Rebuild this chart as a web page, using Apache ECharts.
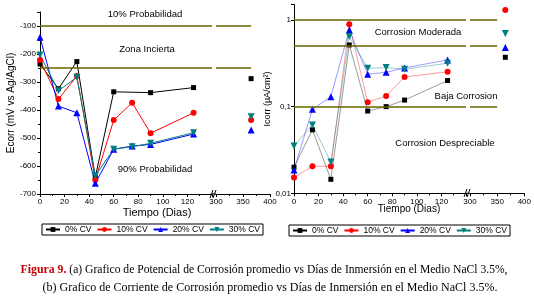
<!DOCTYPE html>
<html>
<head>
<meta charset="utf-8">
<script src="https://cdn.jsdelivr.net/npm/echarts@6/dist/echarts.min.js"></script>
<style>
html, body { margin: 0; padding: 0; background: #fff; }
#chart { width: 534px; height: 301px; }
</style>
</head>
<body>
<div id="chart"></div>
<script>
// dias de inmersion
const days = [0, 15, 30, 45, 60, 75, 90, 125];
const lastDay = 365;
const names = ['0% CV', '10% CV', '20% CV', '30% CV'];

// (a) Ecorr, mV vs Ag/AgCl
const ecorr0 = [-236, -324, -227, -640, -335, null, -338, -320];
const ecorr10 = [-221, -361, -279, -650, -436, -374, -483, -410];
const ecorr20 = [-140, -386, -410, -662, -540, -529, -523, -486];
const ecorr30 = [-204, -331, -283, -635, -540, -531, -519, -481];
const ecorrLast = [-288, -436, -471, -424];

// (b) Icorr, uA/cm2
const icorr0 = [0.020, 0.054, 0.0145, 0.515, 0.089, 0.100, 0.119, 0.200];
const icorr10 = [0.0152, 0.0205, 0.0205, 0.89, 0.112, 0.133, 0.220, 0.252];
const icorr20 = [0.0186, 0.093, 0.130, 0.767, 0.236, 0.249, 0.280, 0.346];
const icorr30 = [0.0352, 0.0615, 0.0229, 0.643, 0.277, 0.282, 0.270, 0.317];
const icorrLast = [0.371, 1.30, 0.48, 0.70];

// lineas de limite
const ecorrLimits = [-100, -250];
const icorrLimits = [1, 0.5, 0.1];
const ecorrLimitEnd = 365;
const icorrLimitEnd = 350;

const font = 'Liberation Sans';
const colors = ['#000000', '#ff0000', '#0000ff', '#007f7f'];
const symbols = ['rect', 'circle', 'triangle', 'triangle'];
const rotates = [0, 0, 0, 180];
const sizes = [5, 6, 7, 7];
const olive = '#666600';

const chart = echarts.init(document.getElementById('chart'));

function pts(arr) {
    return days.map((d, i) => [d, arr[i]]).filter(p => p[1] !== null);
}

function makeSeries(k, data, xi, yi, faded) {
    return {
        type: 'line',
        name: names[k],
        xAxisIndex: xi,
        yAxisIndex: yi,
        data: data,
        symbol: symbols[k],
        symbolSize: sizes[k],
        symbolRotate: rotates[k],
        itemStyle: { color: colors[k] },
        lineStyle: { color: colors[k], width: 1, opacity: faded ? 0.4 : 1 },
        emphasis: { disabled: true }
    };
}

function limitLine(data) {
    return {
        silent: true,
        symbol: 'none',
        label: { show: false },
        lineStyle: { color: olive, width: 1.5, type: 'solid' },
        data: data
    };
}

const series = [];
[ecorr0, ecorr10, ecorr20, ecorr30].forEach((arr, k) => {
    series.push(makeSeries(k, pts(arr), 0, 0, false));
});
ecorrLast.forEach((v, k) => {
    series.push(makeSeries(k, [[lastDay, v]], 1, 1, false));
});
[icorr0, icorr10, icorr20, icorr30].forEach((arr, k) => {
    series.push(makeSeries(k, pts(arr), 2, 2, true));
});
icorrLast.forEach((v, k) => {
    series.push(makeSeries(k, [[lastDay, v]], 3, 3, true));
});

series[0].markLine = limitLine(ecorrLimits.map(v => ({ yAxis: v })));
series[4].markLine = limitLine(ecorrLimits.map(v => [{ coord: [300, v] }, { coord: [ecorrLimitEnd, v] }]));
series[8].markLine = limitLine(icorrLimits.map(v => ({ yAxis: v })));
series[12].markLine = limitLine(icorrLimits.map(v => [{ coord: [300, v] }, { coord: [icorrLimitEnd, v] }]));

const axisBase = {
    splitLine: { show: false },
    axisLine: { lineStyle: { color: '#000', width: 1 } },
    axisTick: { length: 3, lineStyle: { color: '#000' } },
    minorTick: { show: true, splitNumber: 2, length: 2, lineStyle: { color: '#000' } },
    axisLabel: { fontSize: 8, fontFamily: font, color: '#000', margin: 4 }
};

function xMain(grid) {
    return Object.assign({}, axisBase, {
        gridIndex: grid, type: 'value', min: 0, max: 140, interval: 20,
        axisLabel: Object.assign({}, axisBase.axisLabel, {
            formatter: v => (v === 140 ? '' : v)
        })
    });
}

function xEnd(grid) {
    return Object.assign({}, axisBase, {
        gridIndex: grid, type: 'value', min: 300, max: 400, interval: 50
    });
}

function logLabel(v) {
    const e = Math.log10(v);
    if (Math.abs(e - Math.round(e)) > 1e-6) return '';
    return String(Number(v.toPrecision(3))).replace('.', ',');
}

const legendBase = {
    data: names, itemWidth: 14, itemHeight: 6, itemGap: 5,
    padding: [1, 3], borderColor: '#000', borderWidth: 1, selectedMode: false,
    textStyle: { fontSize: 8.5, fontFamily: font, color: '#000' }
};

chart.setOption({
    animation: false,
    textStyle: { fontFamily: font },
    grid: [
        { left: 40, top: 12, width: 172, height: 182 },
        { left: 216, top: 12, width: 54, height: 182 },
        { left: 294, top: 4.7, width: 172, height: 188.6 },
        { left: 470, top: 4.7, width: 55, height: 188.6 }
    ],
    xAxis: [xMain(0), xEnd(1), xMain(2), xEnd(3)],
    yAxis: [
        Object.assign({}, axisBase, {
            gridIndex: 0, type: 'value', min: -700, max: -50, interval: 100,
            name: 'Ecorr (mV vs Ag/AgCl)', nameLocation: 'middle', nameGap: 24,
            nameTextStyle: { fontSize: 10, fontFamily: font, color: '#000' },
            axisLabel: Object.assign({}, axisBase.axisLabel, {
                formatter: v => (v % 100 === 0 ? v : '')
            })
        }),
        { gridIndex: 1, type: 'value', min: -700, max: -50, show: false },
        Object.assign({}, axisBase, {
            gridIndex: 2, type: 'log', logBase: 10, min: 0.01, max: 1.5,
            minorTick: { show: false },
            name: 'Icorr (µA/cm²)', nameLocation: 'middle', nameGap: 17,
            nameTextStyle: { fontSize: 9, fontFamily: font, color: '#000' },
            axisLabel: Object.assign({}, axisBase.axisLabel, {
                margin: 3, formatter: logLabel
            })
        }),
        { gridIndex: 3, type: 'log', logBase: 10, min: 0.01, max: 1.5, show: false }
    ],
    legend: [
        Object.assign({}, legendBase, { left: 42, top: 224 }),
        Object.assign({}, legendBase, { left: 289, top: 225 })
    ],
    graphic: [
        { type: 'text', x: 145, y: 14, style: { text: '10% Probabilidad', fontSize: 9.5, fontFamily: font, fill: '#000', align: 'center', verticalAlign: 'middle' } },
        { type: 'text', x: 147, y: 49, style: { text: 'Zona Incierta', fontSize: 9.5, fontFamily: font, fill: '#000', align: 'center', verticalAlign: 'middle' } },
        { type: 'text', x: 155, y: 169, style: { text: '90% Probabilidad', fontSize: 9.5, fontFamily: font, fill: '#000', align: 'center', verticalAlign: 'middle' } },
        { type: 'text', x: 418, y: 32, style: { text: 'Corrosion Moderada', fontSize: 9.5, fontFamily: font, fill: '#000', align: 'center', verticalAlign: 'middle' } },
        { type: 'text', x: 466, y: 96, style: { text: 'Baja Corrosion', fontSize: 9.5, fontFamily: font, fill: '#000', align: 'center', verticalAlign: 'middle' } },
        { type: 'text', x: 445, y: 143, style: { text: 'Corrosion Despreciable', fontSize: 9.5, fontFamily: font, fill: '#000', align: 'center', verticalAlign: 'middle' } },
        { type: 'text', x: 157, y: 213, style: { text: 'Tiempo (Dias)', fontSize: 11, fontFamily: font, fill: '#000', align: 'center', verticalAlign: 'middle' } },
        { type: 'text', x: 409, y: 209, style: { text: 'Tiempo (Dias)', fontSize: 10, fontFamily: font, fill: '#000', align: 'center', verticalAlign: 'middle' } },
        // cortes del eje x
        { type: 'line', shape: { x1: 212, y1: 194, x2: 216, y2: 194 }, style: { stroke: '#000', lineWidth: 1 } },
        { type: 'line', shape: { x1: 210, y1: 198, x2: 213, y2: 190 }, style: { stroke: '#000', lineWidth: 1 } },
        { type: 'line', shape: { x1: 213, y1: 198, x2: 216, y2: 190 }, style: { stroke: '#000', lineWidth: 1 } },
        { type: 'line', shape: { x1: 466, y1: 193.3, x2: 470, y2: 193.3 }, style: { stroke: '#000', lineWidth: 1 } },
        { type: 'line', shape: { x1: 464, y1: 197, x2: 467, y2: 189 }, style: { stroke: '#000', lineWidth: 1 } },
        { type: 'line', shape: { x1: 467, y1: 197, x2: 470, y2: 189 }, style: { stroke: '#000', lineWidth: 1 } },
        // pie de figura
        {
            type: 'text', x: 264, y: 270,
            style: {
                text: '{r|Figura 9.} (a) Grafico de Potencial de Corrosión promedio vs Días de Inmersión en el Medio NaCl 3.5%,',
                fontSize: 11.6, fontFamily: 'Liberation Serif', fill: '#000', align: 'center', verticalAlign: 'middle',
                rich: { r: { fontSize: 11.8, fontFamily: 'Liberation Serif', fontWeight: 'bold', fill: '#c00000' } }
            }
        },
        {
            type: 'text', x: 270, y: 288,
            style: {
                text: '(b) Grafico de Corriente de Corrosión promedio vs Días de Inmersión en el Medio NaCl 3.5%.',
                fontSize: 12, fontFamily: 'Liberation Serif', fill: '#000', align: 'center', verticalAlign: 'middle'
            }
        }
    ],
    series: series
});
</script>
</body>
</html>
